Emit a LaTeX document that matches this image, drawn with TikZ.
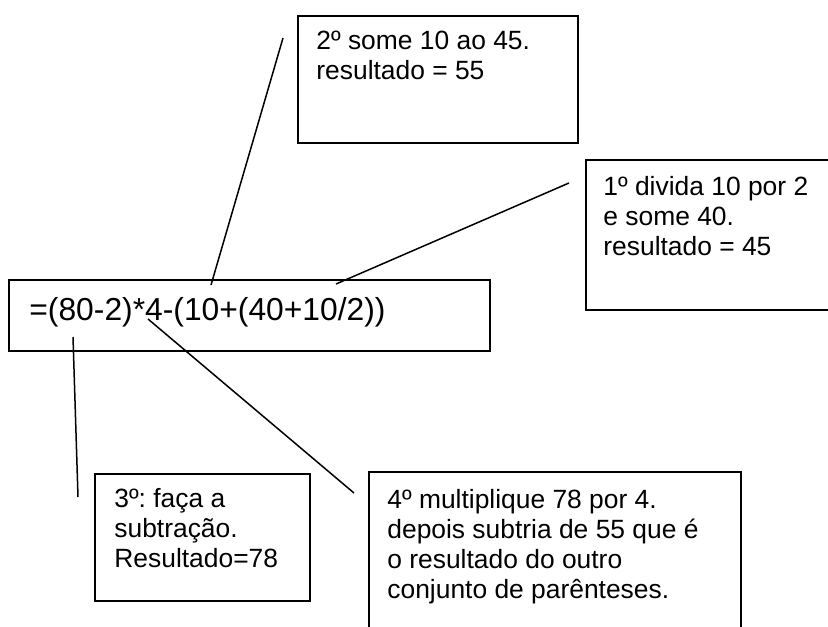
\documentclass[tikz,border=0pt]{standalone}
\usepackage{fontspec}
\setmainfont{Liberation Sans}
\usetikzlibrary{positioning}
\frenchspacing

\tikzset{
  caixa/.style={draw, line width=1pt, inner sep=0pt, anchor=north west},
  nota/.style={font=\fontsize{13.2}{15}\selectfont, inner sep=0pt},
  formula/.style={font=\fontsize{15.9}{19}\selectfont, inner sep=0pt},
  traco/.style={line width=0.75pt},
}
\newcommand{\linhas}[1]{\begin{tabular}[t]{@{}l@{}}#1\end{tabular}}

\begin{document}
\begin{tikzpicture}[x=0.5pt,y=-0.5pt]
\useasboundingbox (0,0) rectangle (828,626);
\clip (0,0) rectangle (828,626);

%Shape: Rectangle (formula)
\node[caixa, minimum width=240.5pt, minimum height=35.5pt] (conta) at (8,279) {};
\node[formula, below right=20.5pt and 10.5pt of conta.north west, anchor=base west] (txconta) {=(80-2)*4-(10+(40+10/2))};

%Shape: Rectangle (passo 2)
\node[caixa, minimum width=140pt, minimum height=63.5pt] (passo2) at (297,15) {};
\node[nota, below right=17.5pt and 9.5pt of passo2.north west, anchor=base west] (tx2) {\linhas{2º some 10 ao 45.\\resultado = 55}};

%Shape: Rectangle (passo 1)
\node[caixa, minimum width=130pt, minimum height=75pt] (passo1) at (585,159) {};
\node[nota, below right=18pt and 9pt of passo1.north west, anchor=base west] (tx1) {\linhas{1º divida 10 por 2\\e some 40.\\resultado = 45}};

%Shape: Rectangle (passo 3)
\node[caixa, minimum width=107.5pt, minimum height=63.5pt] (passo3) at (94,473) {};
\node[nota, below right=17pt and 10pt of passo3.north west, anchor=base west] (tx3) {\linhas{3º: faça a\\subtração.\\Resultado=78}};

%Shape: Rectangle (passo 4)
\node[caixa, minimum width=186pt, minimum height=85pt] (passo4) at (368,471) {};
\node[nota, below right=18.5pt and 9.5pt of passo4.north west, anchor=base west] (tx4) {\linhas{4º multiplique 78 por 4.\\depois subtria de 55 que é\\o resultado do outro\\conjunto de parênteses.}};

% pontas das linhas
\coordinate (a2) at (211,285);
\coordinate (b2) at (283,38);
\coordinate (a1) at (336,284);
\coordinate (b1) at (569,183);
\coordinate (a3) at (73,337);
\coordinate (b3) at (78,497);
\coordinate (a4) at (148,319);
\coordinate (b4) at (354,493);

%Straight Lines
\draw[traco] (a2) -- (b2);
\draw[traco] (a1) -- (b1);
\draw[traco] (a3) -- (b3);
\draw[traco] (a4) -- (b4);

\end{tikzpicture}
\end{document}
